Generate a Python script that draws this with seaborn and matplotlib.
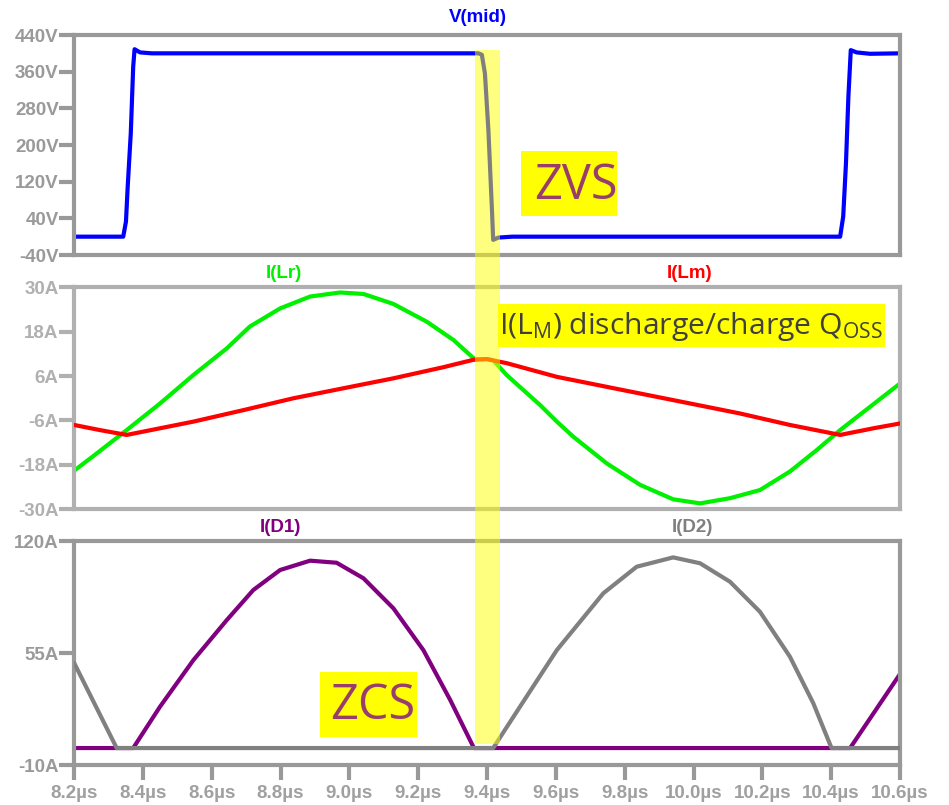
import matplotlib
matplotlib.use("Agg")
import matplotlib.pyplot as plt
import pandas as pd
import seaborn as sns
from matplotlib import font_manager
from matplotlib.patches import Rectangle
from matplotlib.transforms import blended_transform_factory

# ---- waveform samples (time in µs) ----
# half-bridge midpoint voltage V(mid) [V]
t_vmid = [8.200, 8.343, 8.351, 8.356, 8.365, 8.372, 8.376, 8.392, 8.426,
          9.375, 9.385, 9.394, 9.404, 9.414, 9.418, 9.433, 9.473,
          10.426, 10.435, 10.443, 10.450, 10.457, 10.474, 10.513, 10.600]
v_mid = [0, 0, 33, 109, 226, 371, 409, 402, 400,
         400, 397, 356, 233, 65, -7, -2, 0,
         0, 44, 160, 305, 407, 402, 399, 400]

# resonant inductor current I(Lr) [A]
t_ilr = [8.200, 8.266, 8.353, 8.450, 8.547, 8.644, 8.711, 8.799, 8.886, 8.973,
         9.041, 9.128, 9.225, 9.302, 9.365, 9.399, 9.418, 9.457, 9.506, 9.554,
         9.603, 9.651, 9.748, 9.845, 9.941, 10.019, 10.106, 10.193, 10.280,
         10.358, 10.426, 10.513, 10.600]
i_lr = [-19.6, -14.9, -8.6, -1.4, 6.3, 13.5, 19.4, 24.3, 27.5, 28.6,
        28.2, 25.5, 20.7, 15.8, 10.5, 10.6, 10.3, 6.3, 2.2, -1.8,
        -6.3, -10.4, -17.6, -23.4, -27.3, -28.4, -27.0, -24.8, -19.8,
        -14.0, -8.6, -2.3, 4.0]

# magnetizing inductor current I(Lm) [A]
t_ilm = [8.200, 8.276, 8.353, 8.450, 8.547, 8.692, 8.837, 8.982, 9.128, 9.273,
         9.360, 9.399, 9.457, 9.603, 9.796, 9.990, 10.135, 10.280, 10.426,
         10.523, 10.600]
i_lm = [-7.2, -8.6, -9.9, -8.1, -6.3, -3.2, 0.0, 2.7, 5.4, 8.4,
        10.4, 10.6, 9.5, 5.8, 2.2, -1.4, -4.1, -7.2, -9.9,
        -8.1, -6.8]

# rectifier diode currents I(D1), I(D2) [A]
t_id1 = [8.200, 8.372, 8.450, 8.547, 8.644, 8.721, 8.799, 8.886, 8.963,
         9.041, 9.128, 9.215, 9.293, 9.362, 10.455, 10.600]
i_d1 = [0, 0, 24, 51, 74.2, 91.6, 103.2, 108.6, 107.4,
        98.4, 81, 56.8, 27.9, 0, 0, 42.9]

t_id2 = [8.200, 8.324, 9.418, 9.496, 9.603, 9.738, 9.835, 9.941, 10.019,
         10.106, 10.193, 10.280, 10.348, 10.401, 10.600]
i_d2 = [49.5, 0, 0, 24, 56.8, 89.7, 105.1, 110.5, 107.1,
        96.4, 79, 53, 26, 0, 0]

# dead-time window highlighted across all panels [µs]
deadtime = (9.365, 9.438)

x_ticks = [8.2, 8.4, 8.6, 8.8, 9.0, 9.2, 9.4, 9.6, 9.8, 10.0, 10.2, 10.4, 10.6]
v_ticks = [-40, 40, 120, 200, 280, 360, 440]
ilr_ticks = [-30, -18, -6, 6, 18, 30]
id_ticks = [-10, 55, 120]

# ---- styling ----
sns.set_style("white")
names = {f.name for f in font_manager.fontManager.ttflist}
label_font = "Liberation Sans Narrow" if "Liberation Sans Narrow" in names else "Liberation Sans"
plt.rcParams["font.family"] = [label_font, "DejaVu Sans"]
plt.rcParams["mathtext.fontset"] = "custom"
plt.rcParams["mathtext.rm"] = "Open Sans"
plt.rcParams["mathtext.it"] = "Open Sans:italic"
plt.rcParams["mathtext.bf"] = "Open Sans:bold"

W, H = 949, 805
fig = plt.figure(figsize=(W / 100, H / 100), dpi=100)
fig.patch.set_facecolor("white")


def px_axes(x0, x1, y_top, y_bot):
    return fig.add_axes([x0 / W, 1 - y_bot / H, (x1 - x0) / W, (y_bot - y_top) / H])


def px(x, y):
    return x / W, 1 - y / H


ax_v = px_axes(74, 900, 35, 255)
ax_i = px_axes(74, 900, 287.3, 509.3)
ax_d = px_axes(74, 900, 541, 765.3)

LW = 3.0


def draw(ax, t, y, color, zorder=2):
    df = pd.DataFrame({"t": t, "y": y})
    sns.lineplot(data=df, x="t", y="y", ax=ax, color=color, lw=LW,
                 sort=False, estimator=None, legend=False, zorder=zorder)


draw(ax_v, t_vmid, v_mid, "#0000ff")
draw(ax_i, t_ilr, i_lr, "#00f000")
draw(ax_i, t_ilm, i_lm, "#ff0000", zorder=3)
draw(ax_d, t_id1, i_d1, "#800080")
draw(ax_d, t_id2, i_d2, "#808080", zorder=3)


def style(ax, ylim, yticks, unit, frame, labelc, show_x):
    ax.set_xlim(8.2, 10.6)
    ax.set_ylim(*ylim)
    ax.set_xlabel("")
    ax.set_ylabel("")
    for s in ax.spines.values():
        s.set_visible(True)
        s.set_color(frame)
        s.set_linewidth(3)
    ax.set_yticks(yticks)
    ax.set_yticklabels([f"{v}{unit}" for v in yticks], fontweight="bold",
                       fontsize=13.5, color=labelc)
    ax.tick_params(axis="y", direction="out", length=11, width=3, color=frame,
                   pad=0, left=True)
    if show_x:
        ax.set_xticks(x_ticks)
        ax.set_xticklabels([f"{v:.1f}µs" for v in x_ticks], fontweight="bold",
                           fontsize=13.5, color="#a0a0a0")
        ax.tick_params(axis="x", direction="out", length=11, width=3,
                       color=frame, pad=3, bottom=True)
    else:
        ax.set_xticks([])
    ax.grid(False)


style(ax_v, (-40, 440), v_ticks, "V", "#999999", "#9a9a9a", False)
style(ax_i, (-30, 30), ilr_ticks, "A", "#b0b0b0", "#b0b0b0", False)
style(ax_d, (-10, 120), id_ticks, "A", "#999999", "#9a9a9a", True)

# trace names above each panel
trace_kw = dict(ha="center", va="center", fontsize=13.5, fontweight="bold")
fig.text(*px(478, 17), "V(mid)", color="#0000ff", **trace_kw)
fig.text(*px(284, 273), "I(Lr)", color="#00f000", **trace_kw)
fig.text(*px(690, 273), "I(Lm)", color="#ff0000", **trace_kw)
fig.text(*px(280, 527), "I(D1)", color="#800080", **trace_kw)
fig.text(*px(692, 527), "I(D2)", color="#808080", **trace_kw)

# dead-time highlight spanning the three panels
band_tr = blended_transform_factory(ax_d.transData, fig.transFigure)
fig.add_artist(Rectangle((deadtime[0], 1 - 744 / H), deadtime[1] - deadtime[0],
                         (744 - 50) / H, transform=band_tr, facecolor="#ffff00",
                         alpha=0.5, edgecolor="none", zorder=5))


def note_box(x0, y0, x1, y1):
    fig.add_artist(Rectangle(px(x0, y1), (x1 - x0) / W, (y1 - y0) / H,
                             transform=fig.transFigure, facecolor="#ffff00",
                             edgecolor="none", zorder=6))


note_box(521, 151, 617, 216)
fig.text(*px(576, 186), "ZVS", color="#993d6b", fontsize=35, family="Open Sans",
         ha="center", va="center", zorder=7)

note_box(320, 672, 417, 737)
fig.text(*px(373, 706), "ZCS", color="#993d6b", fontsize=35, family="Open Sans",
         ha="center", va="center", zorder=7)

note_box(498, 304, 885, 347)
fig.text(*px(499, 326), r"I(L$_\mathrm{M}$) discharge/charge Q$_\mathrm{OSS}$",
         color="#404040", fontsize=21.7, family="Open Sans", ha="left", va="center",
         zorder=7)

fig.savefig("out.png", dpi=100, facecolor="white")
